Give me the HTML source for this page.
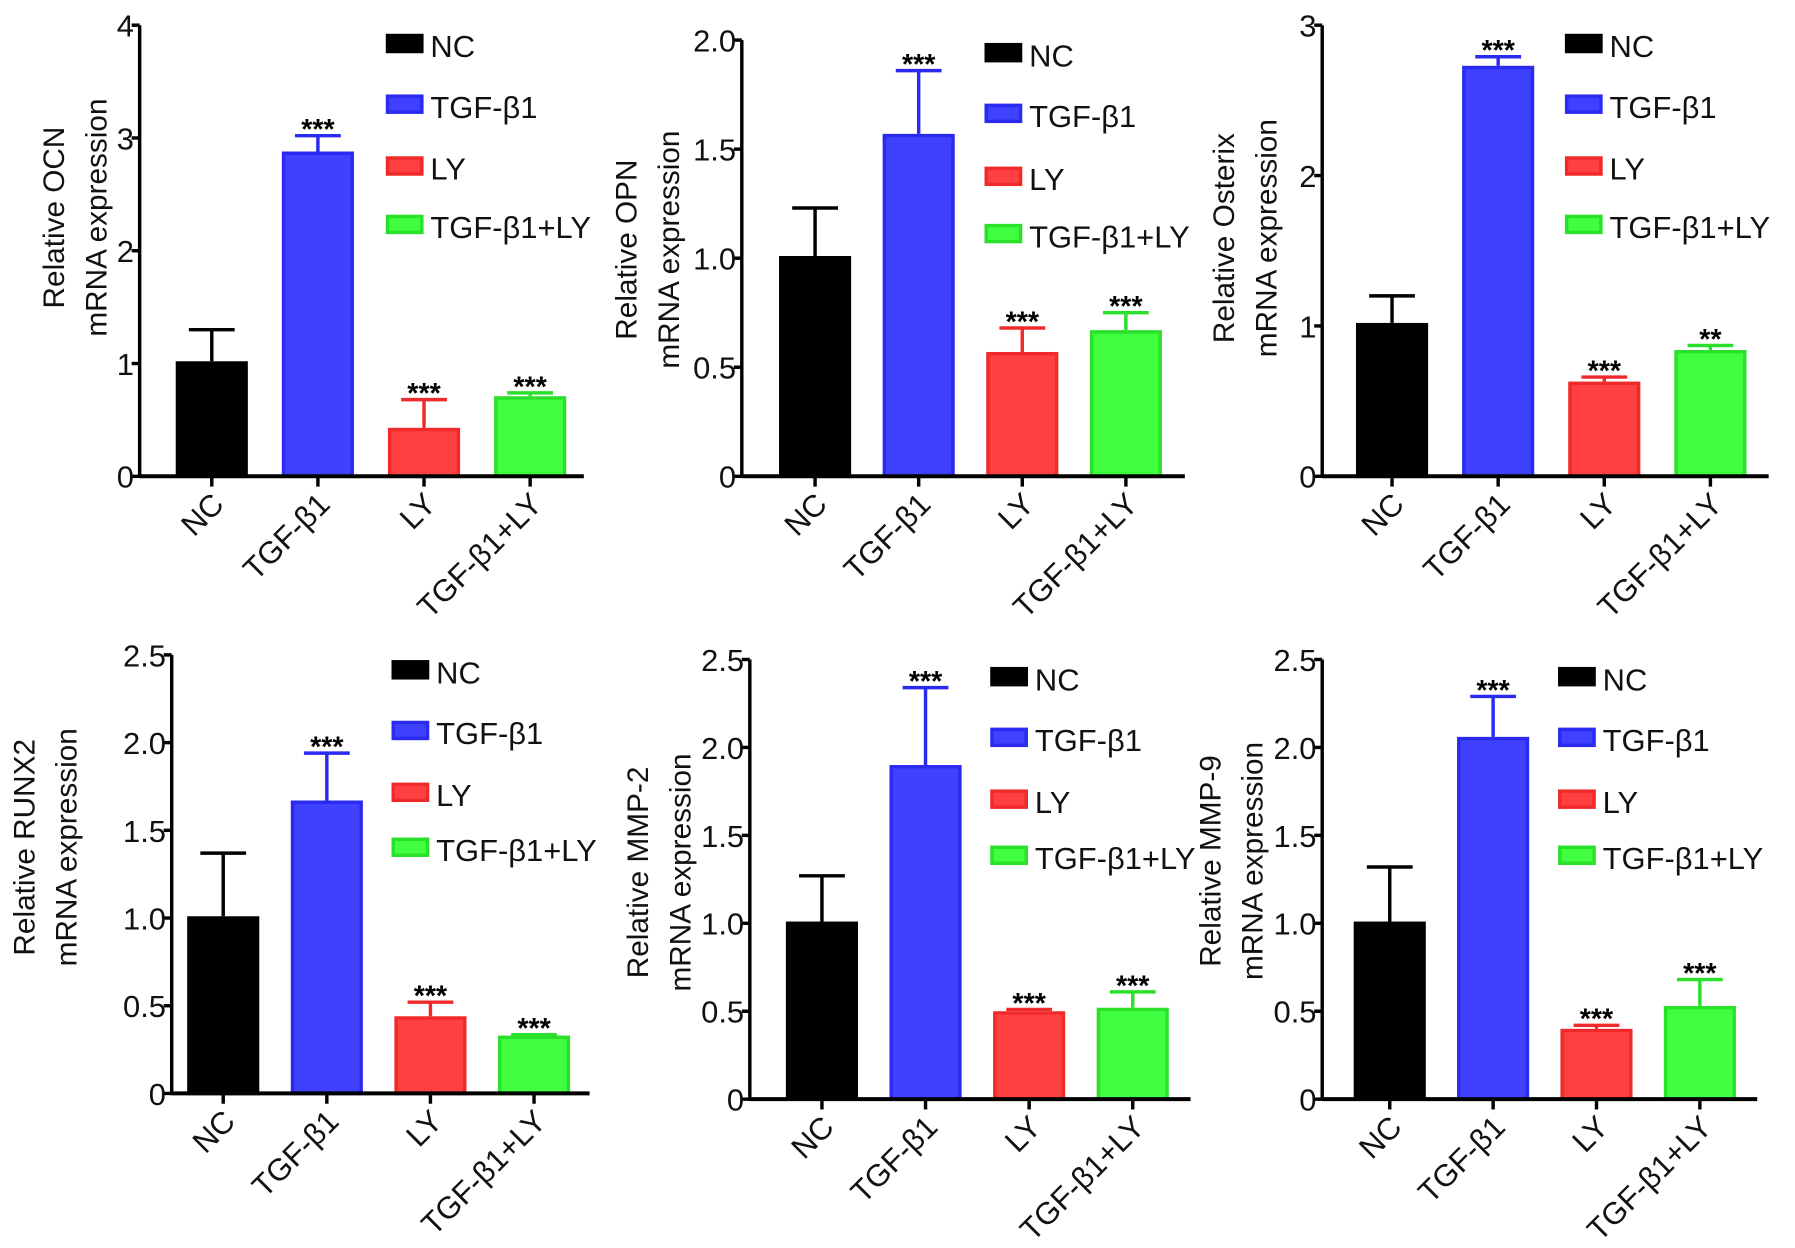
<!DOCTYPE html>
<html><head><meta charset="utf-8"><style>
html,body{margin:0;padding:0;background:#fff;}
svg{display:block;font-family:"Liberation Sans","DejaVu Sans",sans-serif;}
</style></head><body>
<svg id="fig" width="1795" height="1248" viewBox="0 0 1568 1090" preserveAspectRatio="none" xmlns="http://www.w3.org/2000/svg"></svg>
<script>
const categories = ["NC","TGF-β1","LY","TGF-β1+LY"];
const ocnValues = [1.02, 2.88, 0.43, 0.71];
const ocnErrors = [1.30, 3.02, 0.68, 0.74];
const ocnStars = ["", "***", "***", "***"];
const opnValues = [1.01, 1.57, 0.57, 0.67];
const opnErrors = [1.23, 1.86, 0.68, 0.75];
const opnStars = ["", "***", "***", "***"];
const osxValues = [1.02, 2.73, 0.63, 0.84];
const osxErrors = [1.20, 2.79, 0.66, 0.87];
const osxStars = ["", "***", "***", "**"];
const runxValues = [1.01, 1.67, 0.44, 0.33];
const runxErrors = [1.37, 1.94, 0.52, 0.335];
const runxStars = ["", "***", "***", "***"];
const mmp2Values = [1.01, 1.90, 0.50, 0.52];
const mmp2Errors = [1.27, 2.34, 0.51, 0.61];
const mmp2Stars = ["", "***", "***", "***"];
const mmp9Values = [1.01, 2.06, 0.40, 0.53];
const mmp9Errors = [1.32, 2.29, 0.42, 0.68];
const mmp9Stars = ["", "***", "***", "***"];
const ticks4 = [0,1,2,3,4];
const tickLabels4 = ["0","1","2","3","4"];
const ticks2 = [0,0.5,1,1.5,2];
const tickLabels2 = ["0","0.5","1.0","1.5","2.0"];
const ticks3 = [0,1,2,3];
const tickLabels3 = ["0","1","2","3"];
const ticks25 = [0,0.5,1,1.5,2,2.5];
const tickLabels25 = ["0","0.5","1.0","1.5","2.0","2.5"];

const fills = ["#000000","#4040ff","#ff4040","#40ff40"];
const strokes = ["#000000","#2a2af0","#f02a2a","#2ae02a"];
const NS = "http://www.w3.org/2000/svg";
const svg = document.getElementById("fig");
function el(tag, attrs, parent, text){
  const e = document.createElementNS(NS, tag);
  for (const k in attrs) e.setAttribute(k, attrs[k]);
  if (text !== undefined) e.textContent = text;
  (parent||svg).appendChild(e);
  return e;
}
const panels = [
 {id:"ocn", vals:ocnValues, errs:ocnErrors, stars:ocnStars, ticks:ticks4, tl:tickLabels4, max:4, ax:122, xEnd:510, zero:416, top:22, c0:185, pitch:92.7, lx:337, ly:[40,93,147,198], title:["Relative OCN","mRNA expression"], tx:56, ty:190},
 {id:"opn", vals:opnValues, errs:opnErrors, stars:opnStars, ticks:ticks2, tl:tickLabels2, max:2, ax:648, xEnd:1035, zero:416, top:35, c0:712, pitch:90.5, lx:860, ly:[48,101,156,206], title:["Relative OPN","mRNA expression"], tx:556, ty:218},
 {id:"osterix", vals:osxValues, errs:osxErrors, stars:osxStars, ticks:ticks3, tl:tickLabels3, max:3, ax:1155, xEnd:1545, zero:416, top:22, c0:1216, pitch:92.7, lx:1367, ly:[40,93,147,198], title:["Relative Osterix","mRNA expression"], tx:1078, ty:208},
 {id:"runx2", vals:runxValues, errs:runxErrors, stars:runxStars, ticks:ticks25, tl:tickLabels25, max:2.5, ax:150, xEnd:515, zero:955, top:572, c0:195, pitch:90.5, lx:342, ly:[587,640,694,742], title:["Relative RUNX2","mRNA expression"], tx:30, ty:740},
 {id:"mmp2", vals:mmp2Values, errs:mmp2Errors, stars:mmp2Stars, ticks:ticks25, tl:tickLabels25, max:2.5, ax:655, xEnd:1040, zero:960, top:576, c0:718, pitch:90.5, lx:865, ly:[593,646,700,749], title:["Relative MMP-2","mRNA expression"], tx:566, ty:762},
 {id:"mmp9", vals:mmp9Values, errs:mmp9Errors, stars:mmp9Stars, ticks:ticks25, tl:tickLabels25, max:2.5, ax:1155, xEnd:1535, zero:960, top:576, c0:1214, pitch:90.3, lx:1361, ly:[593,646,700,749], title:["Relative MMP-9","mRNA expression"], tx:1066, ty:752}
];
panels.forEach(p => {
  const g = el("g", {});
  
  
  const y = v => p.zero - (v / p.max) * (p.zero - p.top);
  const x = i => p.c0 + i * p.pitch;
  const bw = 63;
  p.vals.forEach((v, i) => {
    const eb = el("line", {x1:x(i), x2:x(i), y1:y(p.errs[i]), y2:y(v), stroke:strokes[i], "stroke-width":3}, g);
    
    
    const cap = el("line", {x1:x(i)-20, x2:x(i)+20, y1:y(p.errs[i]), y2:y(p.errs[i]), stroke:strokes[i], "stroke-width":3}, g);
    
    
    const r = el("rect", {x:x(i)-bw/2+1.5, y:y(v)+1.5, width:bw-3, height:p.zero-y(v)-1.5, fill:fills[i], stroke:strokes[i], "stroke-width":3}, g);
    
    
    if (p.stars[i]) {
      const s = el("text", {x:x(i), y:y(p.errs[i]) + 3, "text-anchor":"middle", "font-size":25, "font-weight":"bold", fill:"#000"}, g, p.stars[i]);
      
      
    }
    const tk = el("line", {x1:x(i), x2:x(i), y1:p.zero, y2:p.zero+9, stroke:"#000", "stroke-width":3}, g);
    
    
    const lab = el("text", {x:0, y:0, "text-anchor":"end", "font-size":27, fill:"#111", transform:`translate(${x(i)+12},${p.zero+26}) rotate(-45)`}, g, categories[i]);
    
    
  });
  const ya = el("line", {x1:p.ax, x2:p.ax, y1:p.top, y2:p.zero+1.5, stroke:"#000", "stroke-width":3}, g);
  
  
  const xa = el("line", {x1:p.ax, x2:p.xEnd, y1:p.zero, y2:p.zero, stroke:"#000", "stroke-width":3.5}, g);
  
  
  p.ticks.forEach((t, k) => {
    const tl = el("line", {x1:p.ax-7, x2:p.ax, y1:y(t), y2:y(t), stroke:"#000", "stroke-width":3}, g);
    
    
    const tt = el("text", {x:p.ax-5, y:y(t)+10, "text-anchor":"end", "font-size":27, fill:"#111"}, g, p.tl[k]);
    
    
  });
  const tg = el("text", {x:0, y:0, "text-anchor":"middle", "font-size":26, fill:"#111", transform:`translate(${p.tx},${p.ty}) rotate(-90)`}, g);
  
  
  el("tspan", {x:0, dy:0}, tg, p.title[0]);
  el("tspan", {x:0, dy:37}, tg, p.title[1]);
  categories.forEach((c, i) => {
    const sw = el("rect", {x:p.lx+1.5, y:p.ly[i]-9, width:30, height:14, fill:fills[i], stroke:strokes[i], "stroke-width":3}, g);
    
    
    const lt = el("text", {x:p.lx+39, y:p.ly[i]+10, "font-size":27, fill:"#111"}, g, c);
    
    
  });
});
</script>
</body></html>
